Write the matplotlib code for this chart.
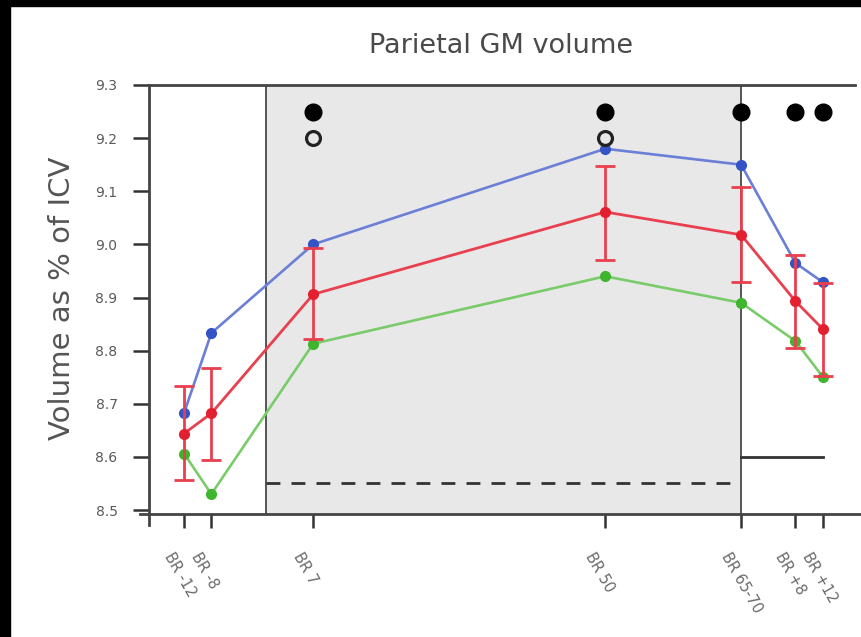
import matplotlib
matplotlib.use("Agg")
import matplotlib.pyplot as plt
import matplotlib.transforms as mtransforms
from matplotlib.patches import Rectangle

# ---- data ----
days = [-12, -8, 7, 50, 70, 78, 82]
tick_labels = ["BR -12", "BR -8", "BR 7", "BR 50", "BR 65-70", "BR +8", "BR +12"]
blue = [8.683, 8.833, 9.000, 9.180, 9.150, 8.965, 8.929]
red = [8.644, 8.682, 8.906, 9.061, 9.018, 8.893, 8.841]
red_lo = [8.557, 8.595, 8.822, 8.971, 8.930, 8.805, 8.752]
red_hi = [8.733, 8.767, 8.994, 9.148, 9.108, 8.980, 8.927]
green = [8.606, 8.530, 8.813, 8.940, 8.890, 8.818, 8.751]
sig_filled_x = [7, 50, 70, 78, 82]
sig_filled_y = [9.25] * 5
sig_open_x = [7, 50]
sig_open_y = [9.20] * 2
bedrest_span = [0, 70]
dashed_y = 8.55
recovery_span = [70, 82]
solid_y = 8.60

fig = plt.figure(figsize=(8.62, 6.37), dpi=100)
ax = fig.add_axes([140/862, 123/637, 720/862, 429/637])

ax.set_xlim(-18.5, 87.5)
ax.set_ylim(8.4925, 9.3)

# shaded bed-rest region
ax.axvspan(bedrest_span[0], bedrest_span[1], ymin=0, ymax=1, color="#e8e8e8", zorder=0, lw=0)
for xv in bedrest_span:
    ax.axvline(xv, color="#555555", lw=1.4, zorder=1)

ax.plot(bedrest_span, [dashed_y, dashed_y], color="#333333", lw=2, dashes=(5, 4), zorder=2)
ax.plot(recovery_span, [solid_y, solid_y], color="#333333", lw=2, zorder=2)

# series
ax.plot(days, green, color="#7acb6a", lw=1.9, zorder=3)
ax.plot(days, green, ls="none", marker="o", ms=7, color="#3fb52e", zorder=4)
ax.plot(days, blue, color="#6b7fd6", lw=1.9, zorder=3)
ax.plot(days, blue, ls="none", marker="o", ms=7, color="#3553c4", zorder=4)
yerr = [[r - lo for r, lo in zip(red, red_lo)], [hi - r for r, hi in zip(red, red_hi)]]
ax.errorbar(days, red, yerr=yerr, color="#e8404f", lw=2.0, elinewidth=2.0,
            capsize=7, capthick=2.0, marker="o", ms=7, mfc="#e3202f", mec="#e3202f", zorder=5)

# significance markers
ax.plot(sig_filled_x, sig_filled_y, ls="none", marker="o", ms=12, color="black", zorder=6)
ax.plot(sig_open_x, sig_open_y, ls="none", marker="o", ms=10, mfc="none", mec="#222222", mew=2.3, zorder=6)

# spines
ax.spines["right"].set_visible(False)
ax.spines["left"].set_position(("data", -17.2))
ax.spines["left"].set_bounds(8.472, 9.3)
ax.spines["top"].set_bounds(-17.2, 86.7)
for s in ["left", "top", "bottom"]:
    ax.spines[s].set_color("#444444")
    ax.spines[s].set_linewidth(2.0)

yt = [8.5 + 0.1 * i for i in range(9)]
ax.set_yticks(yt)
ax.set_yticklabels([f"{v:.1f}" for v in yt], fontsize=10, color="#5a5a5a")
ax.tick_params(axis="y", length=11.5, width=1.8, color="#333333", pad=11)

ax.set_xticks(days)
ax.set_xticklabels(tick_labels, fontsize=10.5, color="#6a6a6a", rotation=-60,
                   ha="left", va="top")
ax.tick_params(axis="x", length=10, width=1.8, color="#333333", pad=16)
offset = mtransforms.ScaledTranslation(-23/100, 0, fig.dpi_scale_trans)
for lbl in ax.get_xticklabels():
    lbl.set_transform(lbl.get_transform() + offset)

ax.set_title("Parietal GM volume", fontsize=19.5, color="#4a4a4a", pad=0,
             x=(501-140)/720, y=1.075)
ax.set_ylabel("Volume as % of ICV", fontsize=21, color="#555555")
ax.yaxis.set_label_coords((76-140)/720, (514-298)/429)

# black frame on left and top
fig.patches.append(Rectangle((0, 0), 10/862, 1, transform=fig.transFigure, color="black", zorder=10))
fig.patches.append(Rectangle((0, 1 - 6/637), 1, 6/637, transform=fig.transFigure, color="black", zorder=10))

fig.savefig("out.png", dpi=100)
